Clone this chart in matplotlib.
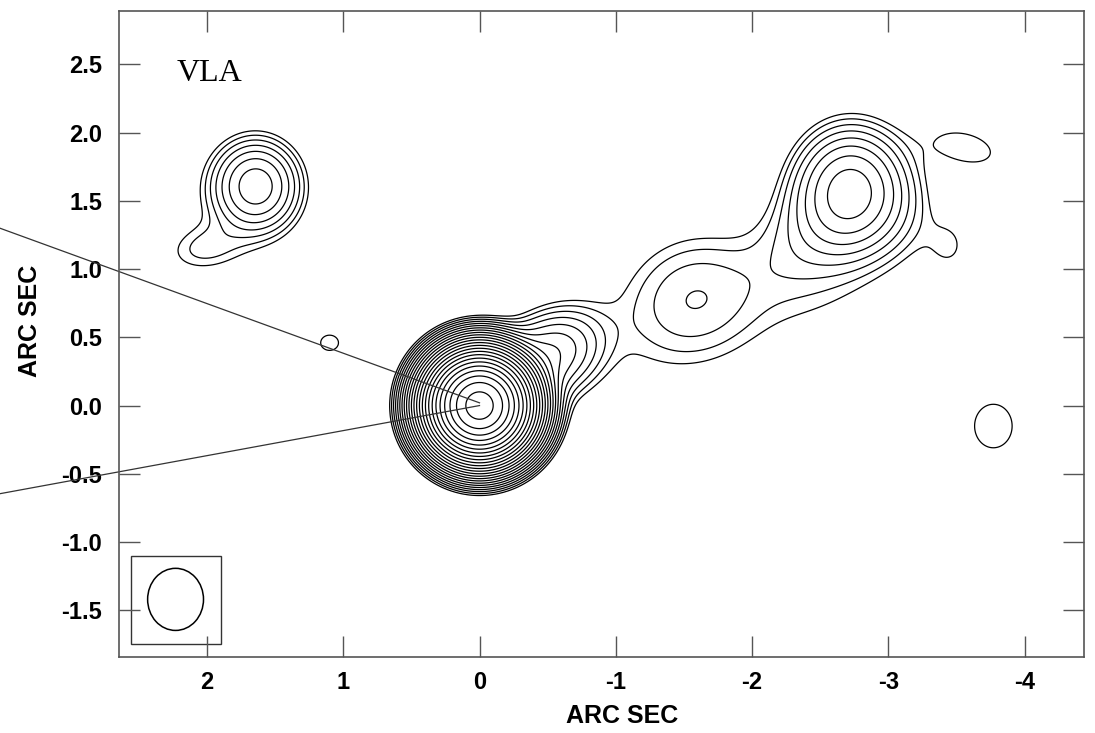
import numpy as np
import matplotlib
matplotlib.use('Agg')
import matplotlib.pyplot as plt
from matplotlib.patches import Ellipse, Rectangle

plt.rcParams['axes.unicode_minus'] = False

# gaussian components of the map: x, y (arcsec), peak, sigma major, sigma minor, angle (deg)
comp_name = ['core', 'jet base', 'jet', 'knot', 'hotspot', 'lobe', 'under lobe', 'lobe edge',
             'lobe tail', 'src', 'src halo', 'src tail', 'blob1', 'blob2', 'blob3']
comp_x   = [0.00, -0.50, -1.40, -1.58, -2.72, -2.50, -2.60, -3.10, -3.45, 1.64, 1.75, 2.02, 1.10, -3.77, -3.57]
comp_y   = [0.00, 0.36, 0.60, 0.79, 1.57, 1.33, 0.90, 1.40, 1.17, 1.61, 1.45, 1.15, 0.46, -0.15, 1.89]
comp_amp = [3500, 8.0, 0.6, 2.3, 12.5, 2.4, 0.7, 0.8, 1.0, 9.5, 0.7, 1.4, 1.3, 1.3, 1.3]
comp_smj = [0.163, 0.24, 0.80, 0.32, 0.22, 0.38, 0.40, 0.18, 0.13, 0.175, 0.30, 0.20, 0.09, 0.19, 0.25]
comp_smn = [0.163, 0.17, 0.35, 0.29, 0.25, 0.22, 0.25, 0.25, 0.17, 0.185, 0.30, 0.12, 0.077, 0.22, 0.13]
comp_pa  = [0, 150, 155, 160, 0, 135, 140, 0, 0, 0, 0, -10, 0, 0, 15]

# contour levels, factor sqrt(2)
levels = 2 ** (np.arange(0, 24) / 2.0)

# restoring beam
beam_x, beam_y, beam_w, beam_h = 2.23, -1.42, 0.41, 0.455
box_x0, box_x1, box_y0, box_y1 = 2.56, 1.90, -1.75, -1.10

# position angle lines from the core
line1_x = [0.0, 3.52]
line1_y = [0.02, 1.30]
line2_x = [0.0, 3.52]
line2_y = [0.0, -0.646]

xt = [2, 1, 0, -1, -2, -3, -4]
yt = [-1.5, -1.0, -0.5, 0.0, 0.5, 1.0, 1.5, 2.0, 2.5]

x = np.linspace(-4.6, 2.8, 740)
y = np.linspace(-1.95, 3.0, 500)
X, Y = np.meshgrid(x, y)
Z = np.zeros_like(X)
for i in range(len(comp_x)):
    t = np.radians(comp_pa[i])
    dx = X - comp_x[i]
    dy = Y - comp_y[i]
    u = dx * np.cos(t) + dy * np.sin(t)
    v = -dx * np.sin(t) + dy * np.cos(t)
    Z += comp_amp[i] * np.exp(-0.5 * ((u / comp_smj[i]) ** 2 + (v / comp_smn[i]) ** 2))

fig = plt.figure(figsize=(10.95, 7.33), dpi=100)
ax = fig.add_axes([119 / 1095, 1 - 656.7 / 733, (1084 - 119) / 1095, (656.7 - 10.7) / 733])

ax.contour(X, Y, Z, levels=levels, colors='black', linewidths=0.9)

ax.plot(line1_x, line1_y, color='#333333', lw=0.9, clip_on=False)
ax.plot(line2_x, line2_y, color='#333333', lw=0.9, clip_on=False)

ax.add_patch(Rectangle((box_x1, box_y0), box_x0 - box_x1, box_y1 - box_y0,
                       fill=False, ec='#333333', lw=1.0))
ax.add_patch(Ellipse((beam_x, beam_y), beam_w, beam_h, fill=False, ec='black', lw=1.1))

ax.text(2.22, 2.43, 'VLA', family='Liberation Serif', fontsize=23, va='center', ha='left')

ax.set_xlim(2.645, -4.435)
ax.set_ylim(-1.84, 2.893)

ax.set_xticks(xt)
ax.set_xticklabels([str(v) for v in xt])
ax.set_yticks(yt)
ax.set_yticklabels(['%.1f' % v for v in yt])

for lab in ax.get_xticklabels() + ax.get_yticklabels():
    lab.set_family('Liberation Sans')
    lab.set_fontweight('bold')
    lab.set_fontsize(17)

ax.tick_params(direction='in', length=15, width=1.0, color='#555555',
               top=True, right=True, pad=10)
ax.tick_params(axis='y', pad=12)
for s in ax.spines.values():
    s.set_color('#555555')
    s.set_linewidth(1.2)

fig.text(622 / 1095, 1 - 716 / 733, 'ARC SEC', family='Liberation Sans', fontweight='bold',
         fontsize=18, ha='center', va='center')
fig.text(30 / 1095, 1 - 321 / 733, 'ARC SEC', family='Liberation Sans', fontweight='bold',
         fontsize=18, ha='center', va='center', rotation=90)

fig.savefig('out.png', dpi=100)
